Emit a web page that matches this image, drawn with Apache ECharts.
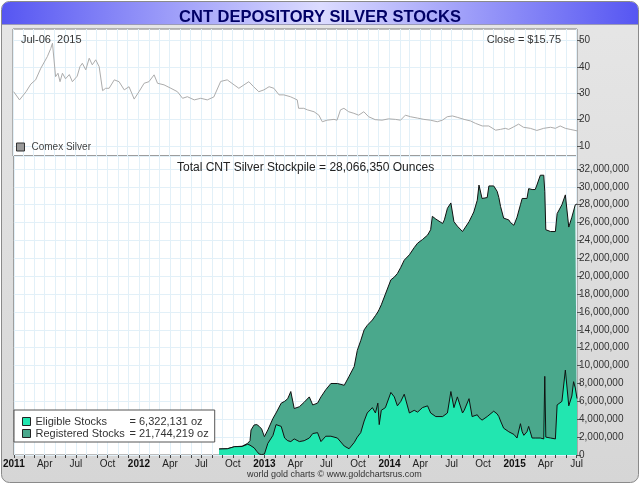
<!DOCTYPE html>
<html>
<head>
<meta charset="utf-8">
<title>CNT Depository Silver Stocks</title>
<script src="https://cdn.jsdelivr.net/npm/echarts@6/dist/echarts.min.js"></script>
<style>
html, body { margin: 0; padding: 0; background: #fff; }
#main { width: 640px; height: 484px; }
</style>
</head>
<body>
<div id="main"></div>
<script>
// Comex silver price ($/oz)
var silverDates = [
    '2011-01-03', '2011-01-20', '2011-02-08', '2011-02-22', '2011-03-08', '2011-03-23', '2011-04-11', '2011-04-21',
    '2011-04-26', '2011-05-05', '2011-05-12', '2011-05-18', '2011-05-25', '2011-06-03', '2011-06-14', '2011-06-23',
    '2011-07-07', '2011-07-15', '2011-07-22', '2011-08-01', '2011-08-11', '2011-08-20', '2011-08-30', '2011-09-09',
    '2011-09-14', '2011-09-19', '2011-09-28', '2011-10-08', '2011-10-23', '2011-11-06', '2011-11-21', '2011-12-05',
    '2011-12-20', '2012-01-03', '2012-01-18', '2012-02-01', '2012-02-16', '2012-02-26', '2012-03-16', '2012-04-05',
    '2012-04-24', '2012-05-09', '2012-05-23', '2012-06-12', '2012-07-01', '2012-07-20', '2012-08-08', '2012-08-28',
    '2012-09-16', '2012-10-06', '2012-10-20', '2012-11-04', '2012-11-18', '2012-12-02', '2012-12-17', '2013-01-01',
    '2013-01-16', '2013-01-30', '2013-02-14', '2013-02-28', '2013-03-19', '2013-03-29', '2013-04-08', '2013-04-12',
    '2013-04-27', '2013-05-08', '2013-05-27', '2013-06-10', '2013-06-20', '2013-07-04', '2013-07-24', '2013-08-02',
    '2013-08-12', '2013-08-22', '2013-09-05', '2013-09-20', '2013-10-04', '2013-10-19', '2013-11-02', '2013-11-21',
    '2013-12-11', '2013-12-30', '2014-01-19', '2014-02-03', '2014-02-17', '2014-03-04', '2014-03-24', '2014-04-12',
    '2014-05-01', '2014-05-21', '2014-06-05', '2014-06-19', '2014-07-04', '2014-07-18', '2014-08-07', '2014-08-26',
    '2014-09-09', '2014-09-29', '2014-10-18', '2014-11-07', '2014-11-21', '2014-12-05', '2014-12-15', '2014-12-30',
    '2015-01-13', '2015-01-27', '2015-02-16', '2015-03-07', '2015-03-27', '2015-04-16', '2015-04-30', '2015-05-14',
    '2015-05-29', '2015-06-12', '2015-07-02'
];
var silverPrices = [
    30.6, 27.5, 30.6, 33.5, 35.1, 39.5, 43.9, 47.0,
    49.0, 36.3, 37.6, 34.4, 37.6, 35.5, 37.1, 34.4,
    36.5, 40.1, 41.4, 38.9, 43.3, 40.8, 42.7, 40.1,
    40.5, 31.0, 31.9, 31.9, 35.1, 34.4, 31.3, 32.5,
    27.8, 30.6, 33.8, 34.4, 37.0, 33.8, 33.2, 31.9,
    30.6, 28.1, 28.7, 27.5, 28.1, 27.5, 28.6, 34.5,
    35.1, 33.2, 31.9, 33.2, 34.4, 32.5, 30.6, 31.3,
    32.5, 31.9, 29.4, 29.4, 28.7, 28.1, 27.5, 24.3,
    24.3, 23.7, 23.0, 21.7, 19.2, 19.8, 20.1, 19.8,
    23.7, 24.3, 23.0, 22.4, 21.7, 23.0, 21.1, 20.0,
    19.8, 20.3, 20.1, 19.8, 21.7, 21.1, 20.6, 20.1,
    19.8, 19.2, 19.8, 21.1, 21.4, 20.9, 20.1, 19.5,
    18.6, 17.6, 17.6, 16.0, 16.3, 16.7, 16.3, 17.3,
    18.3, 17.1, 16.7, 15.9, 16.7, 17.1, 16.7, 17.6,
    16.7, 16.3, 15.75
];

// CNT depository stocks, millions of ounces
var stockDates = [
    '2012-08-22', '2012-09-15', '2012-10-06', '2012-10-28', '2012-11-13', '2012-11-20', '2012-11-23', '2012-12-02',
    '2012-12-10', '2012-12-17', '2012-12-24', '2013-01-01', '2013-01-11', '2013-01-26', '2013-02-04', '2013-02-19',
    '2013-03-01', '2013-03-10', '2013-03-19', '2013-03-29', '2013-04-13', '2013-04-27', '2013-05-12', '2013-05-22',
    '2013-06-05', '2013-06-15', '2013-06-29', '2013-07-14', '2013-08-02', '2013-08-22', '2013-09-05', '2013-09-20',
    '2013-09-29', '2013-10-09', '2013-10-19', '2013-10-28', '2013-11-12', '2013-11-21', '2013-11-28', '2013-12-02',
    '2013-12-08', '2013-12-20', '2014-01-05', '2014-01-15', '2014-01-24', '2014-02-03', '2014-02-13', '2014-02-18',
    '2014-02-28', '2014-03-14', '2014-03-24', '2014-04-07', '2014-04-22', '2014-05-01', '2014-05-06', '2014-05-16',
    '2014-05-21', '2014-06-05', '2014-06-10', '2014-06-19', '2014-06-29', '2014-07-08', '2014-07-18', '2014-08-02',
    '2014-08-07', '2014-08-21', '2014-08-30', '2014-09-04', '2014-09-14', '2014-09-19', '2014-09-28', '2014-10-13',
    '2014-10-18', '2014-11-01', '2014-11-11', '2014-11-16', '2014-11-21', '2014-11-30', '2014-12-15', '2014-12-20',
    '2014-12-30', '2015-01-08', '2015-01-18', '2015-01-23', '2015-01-28', '2015-02-06', '2015-02-11', '2015-02-21',
    '2015-03-02', '2015-03-07', '2015-03-17', '2015-03-27', '2015-03-30', '2015-04-02', '2015-04-16', '2015-04-30',
    '2015-05-05', '2015-05-19', '2015-05-29', '2015-06-08', '2015-06-17', '2015-06-22', '2015-06-27', '2015-07-02'
];
var totalStocks = [
    0.67, 0.70, 0.93, 0.98, 1.30, 1.60, 2.80, 3.36,
    3.40, 3.20, 2.90, 2.05, 2.80, 4.10, 4.70, 5.80,
    6.00, 6.30, 7.10, 5.20, 5.40, 5.90, 6.50, 5.60,
    5.80, 6.50, 7.30, 8.00, 8.00, 7.80, 8.80, 9.90,
    11.70, 12.80, 14.00, 14.50, 15.10, 15.60, 16.00, 16.30,
    16.80, 18.00, 19.60, 19.90, 20.30, 21.00, 21.80, 22.00,
    22.40, 23.20, 23.70, 24.10, 24.60, 25.20, 26.70, 26.40,
    26.30, 25.90, 26.30, 27.60, 28.20, 26.10, 25.60, 25.00,
    25.00, 26.10, 26.80, 27.20, 28.50, 30.20, 28.70, 28.80,
    30.10, 30.10, 29.50, 28.80, 27.80, 26.50, 26.30, 26.00,
    25.70, 26.60, 28.00, 28.70, 28.70, 28.70, 29.80, 29.70,
    29.70, 30.20, 31.30, 31.30, 29.50, 25.20, 25.00, 25.00,
    27.00, 28.00, 29.10, 25.50, 26.60, 26.80, 28.00, 28.07
];
var eligibleStocks = [
    0.67, 0.70, 0.93, 0.95, 1.20, 1.10, 1.00, 0.80,
    0.40, 0.10, 0.05, 0.10, 1.30, 2.20, 3.40, 3.20,
    1.90, 1.60, 1.50, 1.80, 1.50, 1.60, 1.90, 2.40,
    2.50, 1.50, 2.10, 2.10, 1.90, 1.00, 0.70, 1.40,
    2.00, 2.50, 3.80, 4.70, 5.30, 4.70, 5.80, 3.40,
    5.00, 5.30, 7.00, 6.50, 5.50, 6.00, 6.80, 6.90,
    4.70, 5.00, 4.80, 5.30, 5.50, 4.70, 4.60, 4.30,
    4.30, 4.30, 4.30, 4.70, 7.10, 5.30, 6.50, 4.70,
    5.00, 6.30, 4.30, 4.40, 4.50, 4.20, 3.90, 4.30,
    4.20, 4.90, 4.60, 4.30, 3.80, 3.00, 2.60, 2.50,
    2.30, 1.90, 3.50, 2.60, 2.20, 2.60, 3.20, 1.90,
    1.90, 2.00, 1.90, 1.80, 8.80, 2.00, 1.90, 1.80,
    5.60, 6.00, 9.50, 5.50, 6.60, 8.20, 7.50, 6.32
];

// figures printed on the chart
var closePrice = 15.75;
var totalStockpile = 28066350;
var eligibleLatest = 6322131;
var registeredLatest = 21744219;
var silverTicks = [10, 20, 30, 40, 50];
var monthNames = ['Jan', 'Feb', 'Mar', 'Apr', 'May', 'Jun', 'Jul', 'Aug', 'Sep', 'Oct', 'Nov', 'Dec'];

var FONT = '"Liberation Sans", Arial, sans-serif';
var xMin = Date.UTC(2011, 0, 1), xMax = Date.UTC(2015, 6, 2);

function ts(d) {
    var p = d.split('-');
    return Date.UTC(+p[0], +p[1] - 1, +p[2]);
}
function fmt(n) {
    return String(Math.round(n)).replace(/\B(?=(\d{3})+(?!\d))/g, ',');
}
function pairs(dates, values) {
    var out = [];
    for (var i = 0; i < dates.length; i++) out.push([ts(dates[i]), values[i]]);
    return out;
}

// monthly ticks, quarterly labels
var monthTicks = [], quarterTicks = [];
for (var y = 2011; y <= 2015; y++) {
    for (var m = 0; m < 12; m++) {
        var t = Date.UTC(y, m, 1);
        if (t > xMax) break;
        monthTicks.push(t);
        if (m % 3 === 0) quarterTicks.push(t);
    }
}

var myChart = echarts.init(document.getElementById('main'), null, { renderer: 'canvas' });

var gridLine = { show: true, lineStyle: { color: '#e2f0f8', width: 1 } };

var option = {
    backgroundColor: '#fff',
    animation: false,
    textStyle: { fontFamily: FONT },
    graphic: [
        {
            type: 'rect', z: -100, silent: true,
            shape: { x: 1.5, y: 1.5, width: 637, height: 481, r: 8 },
            style: {
                fill: new echarts.graphic.LinearGradient(0, 0, 0, 1, [
                    { offset: 0, color: '#e6e6e6' }, { offset: 1, color: '#d6d6d6' }
                ]),
                stroke: '#8a8a8a', lineWidth: 1
            }
        },
        {
            type: 'rect', z: -99, silent: true,
            shape: { x: 2, y: 2, width: 636, height: 22, r: [7, 7, 0, 0] },
            style: {
                fill: new echarts.graphic.LinearGradient(0, 0, 1, 0, [
                    { offset: 0, color: '#5656f2' }, { offset: 0.5, color: '#dcdcff' }, { offset: 1, color: '#5656f2' }
                ])
            }
        },
        {
            type: 'line', z: -98, silent: true,
            shape: { x1: 2, y1: 24.5, x2: 638, y2: 24.5 },
            style: { stroke: '#9a9ab8', lineWidth: 1 }
        }
    ],
    title: [
        {
            text: 'CNT DEPOSITORY SILVER STOCKS', left: 'center', top: 4,
            textStyle: { fontSize: 16.5, fontWeight: 'bold', color: '#000066', fontFamily: FONT }
        },
        {
            text: 'Jul-06  2015', left: 16, top: 29,
            textStyle: { fontSize: 11, fontWeight: 'normal', color: '#333', fontFamily: FONT }
        },
        {
            text: 'Close = $' + closePrice.toFixed(2), right: 74, top: 29,
            textStyle: { fontSize: 11, fontWeight: 'normal', color: '#333', fontFamily: FONT }
        },
        {
            text: 'Total CNT Silver Stockpile = ' + fmt(totalStockpile) + ' Ounces', left: 172, top: 157,
            textStyle: { fontSize: 12, fontWeight: 'normal', color: '#222', fontFamily: FONT }
        },
        {
            text: 'world gold charts \u00a9 www.goldchartsrus.com', left: 242, top: 465,
            textStyle: { fontSize: 9, fontWeight: 'normal', color: '#333', fontFamily: FONT }
        }
    ],
    legend: [
        {
            left: 14, top: 142, orient: 'vertical', selectedMode: false,
            icon: 'rect', itemWidth: 8, itemHeight: 8, itemGap: 0, padding: [0, 2],
            data: [{ name: 'Comex Silver', itemStyle: { color: '#9a9a9a', borderColor: '#333', borderWidth: 1 } }],
            textStyle: { fontSize: 10, color: '#444', fontFamily: FONT, padding: [0, 0, 0, 2] }
        },
        {
            left: 14, top: 410, orient: 'vertical', selectedMode: false,
            backgroundColor: '#fff', borderColor: '#555', borderWidth: 1,
            padding: [6, 6, 3, 8], icon: 'rect', itemWidth: 8, itemHeight: 8, itemGap: 1,
            data: [
                { name: 'Eligible Stocks', itemStyle: { color: '#22e6b0', borderColor: '#222', borderWidth: 1 } },
                { name: 'Registered Stocks', itemStyle: { color: '#4aa88c', borderColor: '#222', borderWidth: 1 } }
            ],
            formatter: function (name) {
                var v = name === 'Eligible Stocks' ? eligibleLatest : registeredLatest;
                return '{n|' + name + '}{v|= ' + fmt(v) + ' oz}';
            },
            textStyle: {
                fontSize: 11, color: '#333', fontFamily: FONT,
                rich: {
                    n: { width: 94, fontSize: 11, color: '#333', fontFamily: FONT, lineHeight: 13 },
                    v: { fontSize: 11, color: '#333', fontFamily: FONT, lineHeight: 13 }
                }
            }
        }
    ],
    grid: [
        { left: 13, right: 63, top: 29, height: 127, show: true, backgroundColor: '#fff', borderColor: '#7a7a7a', borderWidth: 1 },
        { left: 13, right: 63, top: 156, height: 299, show: true, backgroundColor: '#fff', borderColor: '#7a7a7a', borderWidth: 1 }
    ],
    xAxis: [
        {
            gridIndex: 0, type: 'value', min: xMin, max: xMax,
            axisLine: { show: false }, axisLabel: { show: false },
            axisTick: { show: false, customValues: monthTicks },
            splitLine: gridLine
        },
        {
            gridIndex: 1, type: 'value', min: xMin, max: xMax,
            axisLine: { show: false },
            axisTick: { show: true, customValues: monthTicks, length: 3, lineStyle: { color: '#444' } },
            axisLabel: {
                customValues: quarterTicks, margin: 4, fontSize: 10, color: '#222', fontFamily: FONT,
                formatter: function (v) {
                    var d = new Date(v), m = d.getUTCMonth();
                    return m === 0 ? '{yr|' + d.getUTCFullYear() + '}' : monthNames[m];
                },
                rich: { yr: { fontSize: 10, fontWeight: 'bold', color: '#111', fontFamily: FONT } }
            },
            splitLine: gridLine
        }
    ],
    yAxis: [
        {
            gridIndex: 0, type: 'value', position: 'right', min: 6.2, max: 54.4,
            axisLine: { show: false },
            axisTick: { show: true, customValues: silverTicks, length: 4, lineStyle: { color: '#555' } },
            axisLabel: { customValues: silverTicks, margin: 2, fontSize: 10, color: '#333', fontFamily: FONT },
            splitLine: gridLine
        },
        {
            gridIndex: 1, type: 'value', position: 'right', min: 0, max: 33.45, interval: 2,
            axisLine: { show: false },
            axisTick: { show: true, length: 4, lineStyle: { color: '#555' } },
            axisLabel: {
                showMaxLabel: false, margin: 2, fontSize: 10, color: '#333', fontFamily: FONT,
                formatter: function (v) { return fmt(v * 1e6); }
            },
            splitLine: gridLine
        }
    ],
    series: [
        {
            name: 'Comex Silver', type: 'line', xAxisIndex: 0, yAxisIndex: 0,
            data: pairs(silverDates, silverPrices), showSymbol: false, silent: true,
            lineStyle: { color: '#acacac', width: 1 }, itemStyle: { color: '#9a9a9a' }
        },
        {
            name: 'Registered Stocks', type: 'line', xAxisIndex: 1, yAxisIndex: 1, z: 2,
            data: pairs(stockDates, totalStocks), showSymbol: false, silent: true,
            lineStyle: { color: '#111', width: 1 }, itemStyle: { color: '#4aa88c' },
            areaStyle: { color: '#4aa88c', opacity: 1 }
        },
        {
            name: 'Eligible Stocks', type: 'line', xAxisIndex: 1, yAxisIndex: 1, z: 3,
            data: pairs(stockDates, eligibleStocks), showSymbol: false, silent: true,
            lineStyle: { color: '#111', width: 1 }, itemStyle: { color: '#22e6b0' },
            areaStyle: { color: '#22e6b0', opacity: 1 }
        }
    ]
};

myChart.setOption(option);
</script>
</body>
</html>
